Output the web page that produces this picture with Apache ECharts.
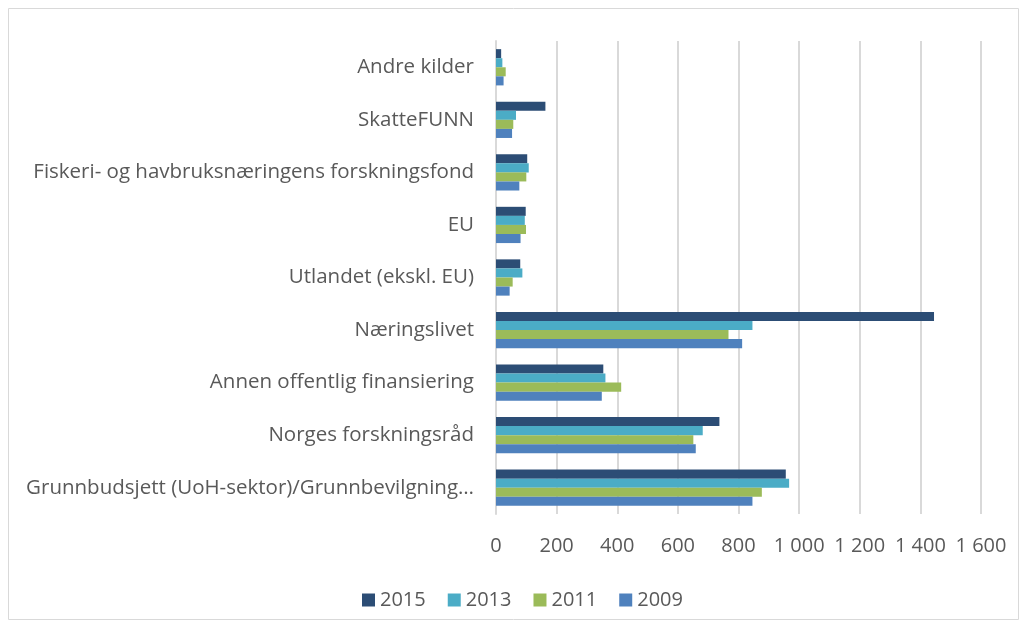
<!DOCTYPE html>
<html>
<head>
<meta charset="utf-8">
<script src="https://cdn.jsdelivr.net/npm/echarts@6/dist/echarts.min.js"></script>
<style>
  html, body { margin: 0; padding: 0; background: #fff; }
  #main { width: 1026px; height: 628px; }
</style>
</head>
<body>
<div id="main"></div>
<script>
// kategorier, nederst først (y-aksen tegnes nedenfra)
const categories = [
  'Grunnbudsjett (UoH-sektor)/Grunnbevilgning (instituttsektor)',
  'Norges forskningsråd',
  'Annen offentlig finansiering',
  'Næringslivet',
  'Utlandet (ekskl. EU)',
  'EU',
  'Fiskeri- og havbruksnæringens forskningsfond',
  'SkatteFUNN',
  'Andre kilder'
]
const years = ['2015', '2013', '2011', '2009']
const values2015 = [956, 737, 354, 1445, 80, 98, 103, 163, 17]
const values2013 = [967, 682, 361, 846, 87, 95, 108, 66, 21]
const values2011 = [877, 651, 413, 767, 55, 99, 100, 57, 32]
const values2009 = [846, 659, 349, 812, 45, 81, 77, 53, 25]
const xTicks = [0, 200, 400, 600, 800, 1000, 1200, 1400, 1600]

const colors = {
  '2015': '#2C4D75',
  '2013': '#4BACC6',
  '2011': '#9BBB59',
  '2009': '#4F81BD'
}
const valuesByYear = {
  '2015': values2015,
  '2013': values2013,
  '2011': values2011,
  '2009': values2009
}

const chart = echarts.init(document.getElementById('main'))

// første serie havner øverst i gruppen
const series = years.map(y => ({
  name: y,
  type: 'bar',
  data: valuesByYear[y],
  barGap: '0%',
  barCategoryGap: '31%',
  itemStyle: { color: colors[y] }
}))

const font = 'Open Sans'

const option = {
  animation: false,
  textStyle: { fontFamily: font, color: '#595959' },
  graphic: [{
    type: 'rect',
    shape: { x: 8.5, y: 8.5, width: 1010, height: 611 },
    style: { fill: 'none', stroke: '#d9d9d9', lineWidth: 1 }
  }],
  grid: { left: 496, right: 45, top: 41, bottom: 114 },
  legend: {
    data: years,
    top: 585,
    left: 357,
    itemWidth: 13,
    itemHeight: 13,
    itemGap: 22,
    icon: 'rect',
    textStyle: { fontSize: 20, color: '#595959', fontFamily: font }
  },
  xAxis: {
    type: 'value',
    min: xTicks[0],
    max: xTicks[xTicks.length - 1],
    interval: 200,
    axisLine: { show: false },
    axisTick: { show: false },
    axisLabel: {
      fontSize: 20,
      color: '#595959',
      margin: 22,
      formatter: v => String(v).replace(/\B(?=(\d{3})+(?!\d))/g, ' ')
    },
    splitLine: { lineStyle: { color: '#d9d9d9', width: 2 } }
  },
  yAxis: {
    type: 'category',
    data: categories,
    axisLine: { lineStyle: { color: '#d9d9d9', width: 2 } },
    axisTick: { show: false },
    axisLabel: {
      fontSize: 20.5,
      color: '#595959',
      margin: 22,
      width: 452,
      overflow: 'truncate',
      ellipsis: '…'
    }
  },
  series: series
}

chart.setOption(option)
</script>
</body>
</html>
